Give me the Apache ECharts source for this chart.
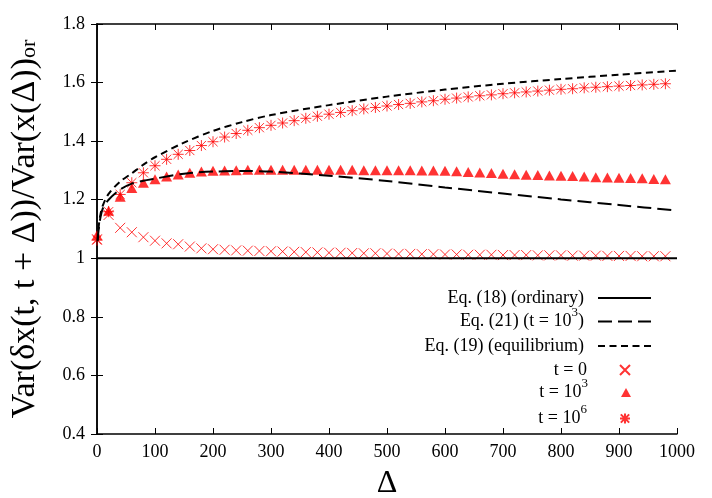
<!DOCTYPE html>
<html>
<head>
<meta charset="utf-8">
<script src="https://cdn.jsdelivr.net/npm/echarts@6/dist/echarts.min.js"></script>
<style>
  html, body { margin: 0; padding: 0; background: #fff; }
  #chart { width: 712px; height: 498px; }
</style>
</head>
<body>
<div id="chart"></div>
<script>
  // sampled Δ positions of the simulation points
  const deltas = [0, 20, 40, 60, 80, 100, 120, 140, 160, 180, 200, 220, 240, 260, 280, 300, 320, 340, 360, 380,
    400, 420, 440, 460, 480, 500, 520, 540, 560, 580, 600, 620, 640, 660, 680, 700, 720, 740, 760, 780,
    800, 820, 840, 860, 880, 900, 920, 940, 960, 980];

  const simT0 = [1.065, 1.148, 1.104, 1.089, 1.072, 1.060, 1.051, 1.048, 1.040, 1.034, 1.031, 1.029, 1.027, 1.026, 1.025,
    1.024, 1.023, 1.022, 1.021, 1.020, 1.019, 1.019, 1.018, 1.017, 1.017, 1.016, 1.015, 1.015, 1.014, 1.014,
    1.013, 1.013, 1.012, 1.012, 1.012, 1.011, 1.011, 1.011, 1.010, 1.010, 1.010, 1.009, 1.009, 1.009, 1.008,
    1.008, 1.008, 1.007, 1.007, 1.007];

  const simT3 = [1.079, 1.162, 1.210, 1.240, 1.258, 1.270, 1.279, 1.286, 1.292, 1.296, 1.299, 1.300, 1.301, 1.302, 1.302,
    1.302, 1.302, 1.302, 1.302, 1.302, 1.302, 1.302, 1.302, 1.301, 1.301, 1.301, 1.301, 1.301, 1.300, 1.300,
    1.299, 1.297, 1.295, 1.293, 1.291, 1.289, 1.287, 1.285, 1.284, 1.283, 1.282, 1.281, 1.279, 1.277, 1.276,
    1.275, 1.274, 1.273, 1.271, 1.270];

  const simT6 = [1.062, 1.159, 1.218, 1.258, 1.292, 1.316, 1.338, 1.355, 1.368, 1.385, 1.398, 1.414, 1.426, 1.437, 1.446,
    1.454, 1.462, 1.470, 1.478, 1.485, 1.492, 1.498, 1.504, 1.510, 1.515, 1.520, 1.525, 1.529, 1.534, 1.538,
    1.543, 1.547, 1.551, 1.555, 1.558, 1.562, 1.565, 1.568, 1.571, 1.574, 1.577, 1.579, 1.582, 1.584, 1.586,
    1.588, 1.590, 1.592, 1.594, 1.596];

  // theory curves
  const eq18X = [0, 1000];
  const eq18Y = [1, 1];
  const curveX = [1, 3, 6, 10, 20, 40, 60, 80, 100, 150, 200, 250, 300, 400, 500, 600, 700, 800, 900, 1000];
  const eq21Y = [1.06, 1.10, 1.14, 1.17, 1.20, 1.235, 1.255, 1.265, 1.272, 1.289, 1.296, 1.298, 1.296, 1.282, 1.264,
    1.242, 1.221, 1.201, 1.182, 1.163];
  const eq19Y = [1.06, 1.11, 1.15, 1.18, 1.22, 1.262, 1.29, 1.32, 1.345, 1.395, 1.435, 1.465, 1.489, 1.523, 1.552,
    1.576, 1.596, 1.612, 1.627, 1.641];

  const xTicks = [0, 1000, 100];
  const yTicks = [0.4, 1.8, 0.2];

  const FONT = 'Liberation Serif';
  const RED = '#ff0000';

  const pairs = (xs, ys) => xs.map((x, i) => [x, ys[i]]);

  const names = {
    eq18: 'Eq. (18) (ordinary)',
    eq21: 'Eq. (21) (t = 10^3)',
    eq19: 'Eq. (19) (equilibrium)',
    t0: 't = 0',
    t3: 't = 10^3',
    t6: 't = 10^6'
  };

  // "10^3" -> rich text with a raised exponent
  const richLabel = (s) => {
    const m = s.match(/^(.*)10\^(\d)(.*)$/);
    if (!m) return '{a|' + s + '}';
    let out = '{a|' + m[1] + '10}{sup|' + m[2] + '}';
    if (m[3]) out += '{a|' + m[3] + '}';
    return out;
  };

  const legendRich = {
    a: { fontFamily: FONT, fontSize: 18, color: '#000' },
    sup: { fontFamily: FONT, fontSize: 13, color: '#000', padding: [0, 0, 18, 0] },
    g: { width: 28 }
  };

  const crossPath = 'path://M0,0L10,10M10,0L0,10';
  const starPath = 'path://M0,0L10,10M10,0L0,10M5,-1L5,11M-1,5L11,5';
  const triPath = 'path://M5,0L10,9L0,9Z';

  // [name, top, isLine]
  const legendRows = [
    [names.eq18, 289, true],
    [names.eq21, 306, true],
    [names.eq19, 337, true],
    [names.t0, 361, false],
    [names.t3, 377, false],
    [names.t6, 403, false]
  ];

  const legends = legendRows.map(([name, top, isLine]) => ({
    data: [name],
    right: isLine ? 60 : 81,
    top: top,
    orient: 'vertical',
    align: 'right',
    padding: 0,
    itemWidth: isLine ? 53 : 10,
    itemHeight: 10,
    selectedMode: false,
    formatter: isLine ? richLabel : (s) => richLabel(s) + '{g| }',
    itemStyle: isLine ? { color: 'transparent', borderWidth: 0 } : {},
    textStyle: { padding: [0, isLine ? 9 : 0, 0, 0], rich: legendRich }
  }));

  const axisLineStyle = { color: '#000', width: 1.5 };

  const option = {
    animation: false,
    backgroundColor: '#fff',
    grid: { left: 97, right: 35, top: 24, bottom: 64, containLabel: false, outerBoundsMode: 'none' },
    legend: legends,
    xAxis: [
      {
        type: 'value', min: xTicks[0], max: xTicks[1], interval: xTicks[2],
        name: 'Δ', nameLocation: 'middle', nameGap: 34,
        nameTextStyle: { fontFamily: FONT, fontSize: 32, color: '#000' },
        axisLine: { lineStyle: axisLineStyle },
        axisTick: { inside: true, length: 6, lineStyle: { color: '#000', width: 1 } },
        axisLabel: { fontFamily: FONT, fontSize: 18, color: '#000', margin: 9, formatter: (v) => String(v) },
        splitLine: { show: false }
      },
      {
        type: 'value', position: 'top', min: xTicks[0], max: xTicks[1], interval: xTicks[2],
        axisLine: { lineStyle: axisLineStyle },
        axisTick: { inside: true, length: 6, lineStyle: { color: '#000', width: 1 } },
        axisLabel: { show: false },
        splitLine: { show: false }
      }
    ],
    yAxis: [
      {
        type: 'value', min: yTicks[0], max: yTicks[1], interval: yTicks[2],
        name: '{m|Var(δx(t, t + Δ))/Var(x(Δ))}{s|or}',
        nameLocation: 'middle', nameGap: 55, nameRotate: 90,
        nameTextStyle: {
          rich: {
            m: { fontFamily: FONT, fontSize: 34, color: '#000' },
            s: { fontFamily: FONT, fontSize: 22, color: '#000', padding: [9, 0, 0, 0] }
          }
        },
        axisLine: { lineStyle: axisLineStyle },
        axisTick: { inside: true, length: 6, lineStyle: { color: '#000', width: 1 } },
        axisLabel: { fontFamily: FONT, fontSize: 18, color: '#000', margin: 12 },
        splitLine: { show: false }
      },
      {
        type: 'value', position: 'right', min: yTicks[0], max: yTicks[1], interval: yTicks[2],
        axisLine: { lineStyle: axisLineStyle },
        axisTick: { inside: true, length: 6, lineStyle: { color: '#000', width: 1 } },
        axisLabel: { show: false },
        splitLine: { show: false }
      }
    ],
    series: [
      {
        name: names.t0, type: 'scatter', data: pairs(deltas, simT0),
        symbol: crossPath, symbolSize: 10, symbolKeepAspect: true,
        itemStyle: { color: 'transparent', borderColor: RED, borderWidth: 1 }
      },
      {
        name: names.t3, type: 'scatter', data: pairs(deltas, simT3),
        symbol: triPath, symbolSize: [11, 10],
        itemStyle: { color: RED }
      },
      {
        name: names.t6, type: 'scatter', data: pairs(deltas, simT6),
        symbol: starPath, symbolSize: 11, symbolKeepAspect: true,
        itemStyle: { color: 'transparent', borderColor: RED, borderWidth: 1 }
      },
      {
        name: names.eq18, type: 'line', data: pairs(eq18X, eq18Y),
        symbol: 'none', lineStyle: { color: '#000', width: 2 }
      },
      {
        name: names.eq21, type: 'line', data: pairs(curveX, eq21Y), smooth: 0.3,
        symbol: 'none', lineStyle: { color: '#000', width: 2, type: [14, 6] }
      },
      {
        name: names.eq19, type: 'line', data: pairs(curveX, eq19Y), smooth: 0.3,
        symbol: 'none', lineStyle: { color: '#000', width: 2, type: [7, 4.5] }
      }
    ]
  };

  const myChart = echarts.init(document.getElementById('chart'), null, { renderer: 'canvas' });
  myChart.setOption(option);
</script>
</body>
</html>
